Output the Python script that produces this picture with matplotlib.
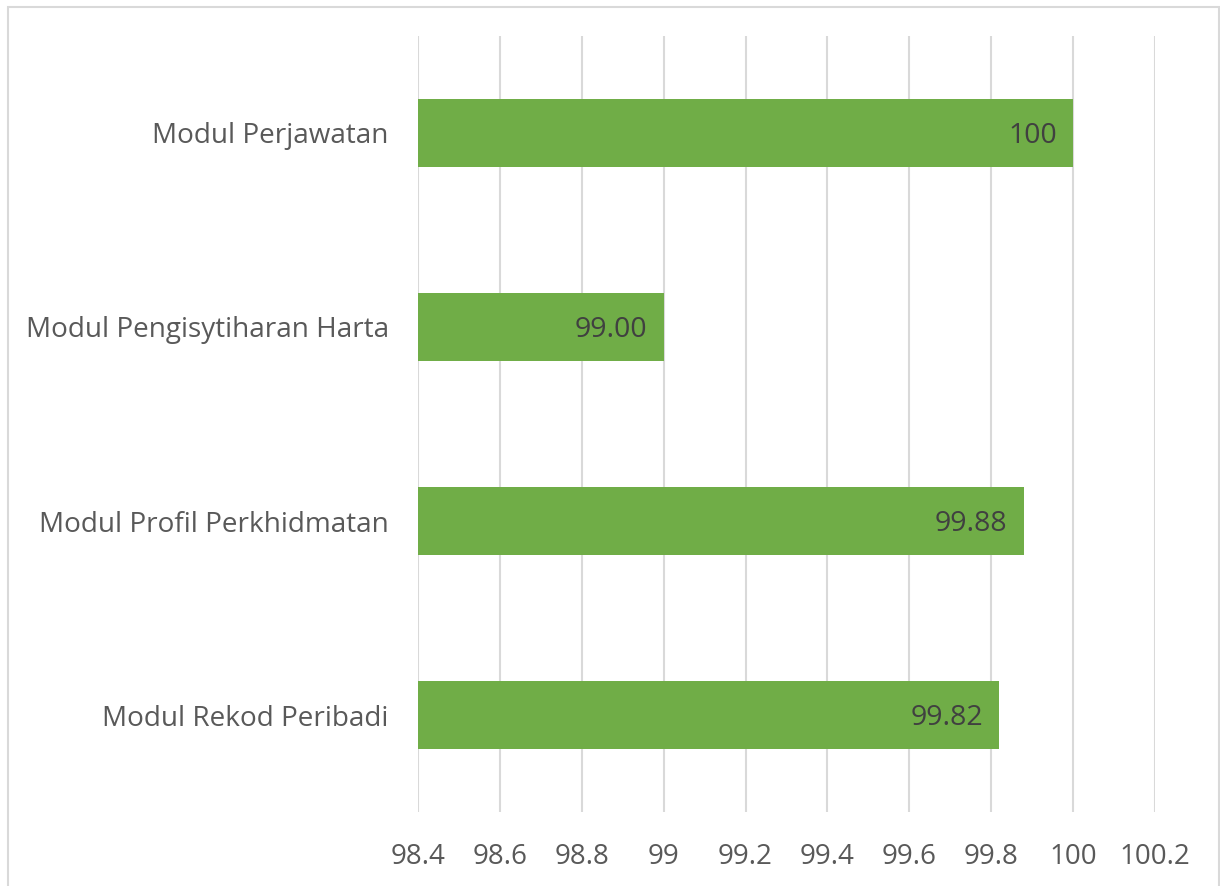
import matplotlib
matplotlib.use('Agg')
import matplotlib.pyplot as plt
from matplotlib.patches import Rectangle

# bottom to top, as drawn
modules = [
    'Modul Rekod Peribadi',
    'Modul Profil Perkhidmatan',
    'Modul Pengisytiharan Harta',
    'Modul Perjawatan',
]
scores = [99.82, 99.88, 99.00, 100]
score_labels = ['99.82', '99.88', '99.00', '100']
x_ticks = [98.4, 98.6, 98.8, 99, 99.2, 99.4, 99.6, 99.8, 100, 100.2]
x_tick_labels = ['98.4', '98.6', '98.8', '99', '99.2', '99.4', '99.6',
                 '99.8', '100', '100.2']

plt.rcParams['font.family'] = ['Open Sans', 'DejaVu Sans']

fig = plt.figure(figsize=(12.2, 8.86), dpi=100)
ax = fig.add_axes([418 / 1220, 74 / 886, 737 / 1220, 776 / 886])

ypos = list(range(len(modules)))
bars = ax.barh(ypos, [s - 98.4 for s in scores], left=98.4, height=0.35,
               color='#70ad47', zorder=3)

for bar, label in zip(bars, score_labels):
    ax.text(bar.get_x() + bar.get_width() - 0.04,
            bar.get_y() + bar.get_height() / 2 - 0.015, label,
            ha='right', va='center', fontsize=20.5, color='#404040', zorder=4)

ax.set_xlim(98.4, 100.2)
ax.set_ylim(-0.5, len(modules) - 0.5)
ax.set_xticks(x_ticks)
ax.set_xticklabels(x_tick_labels)
ax.set_yticks(ypos)
ax.set_yticklabels(modules)
ax.tick_params(axis='x', length=0, pad=22, labelsize=20, colors='#595959')
ax.tick_params(axis='y', length=0, pad=21, labelsize=20.1, colors='#595959')
ax.grid(axis='x', color='#d9d9d9', linewidth=1.5, zorder=0)
ax.set_axisbelow(True)
for spine in ax.spines.values():
    spine.set_visible(False)

# chart frame
fig.patches.append(Rectangle((8 / 1220, -0.02), 1211 / 1220, 1.02 - 7 / 886,
                             transform=fig.transFigure, fill=False,
                             edgecolor='#d9d9d9', linewidth=1.5))

fig.savefig('out.png', dpi=100)
